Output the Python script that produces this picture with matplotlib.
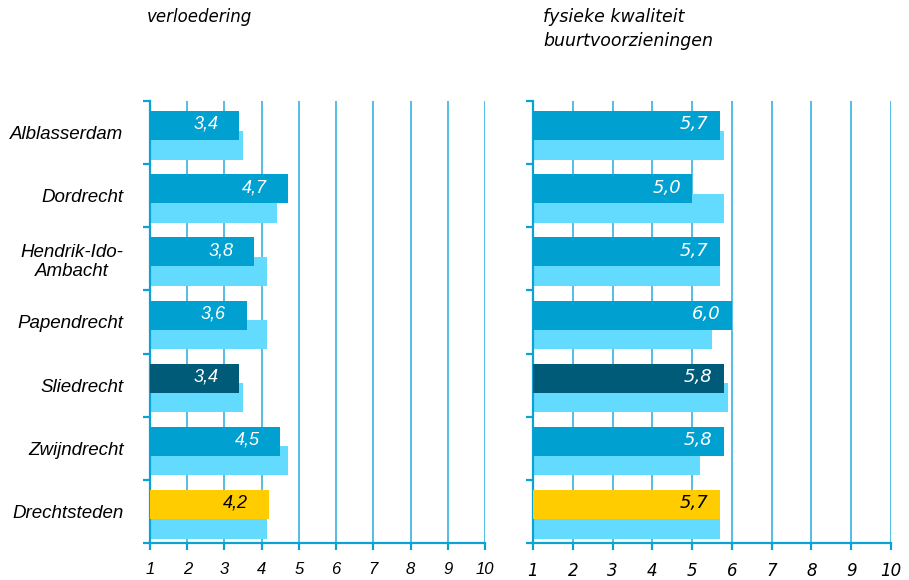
import numpy as np
import matplotlib.pyplot as plt

gemeenten = ['Alblasserdam', 'Dordrecht', 'Hendrik-Ido-\nAmbacht', 'Papendrecht',
             'Sliedrecht', 'Zwijndrecht', 'Drechtsteden']
verloedering = [3.4, 4.7, 3.8, 3.6, 3.4, 4.5, 4.2]
verloedering_vorig = [3.5, 4.4, 4.15, 4.15, 3.5, 4.7, 4.15]
kwaliteit = [5.7, 5.0, 5.7, 6.0, 5.8, 5.8, 5.7]
kwaliteit_vorig = [5.8, 5.8, 5.7, 5.5, 5.9, 5.2, 5.7]
schaal = list(range(1, 11))

blauw = '#00a1d1'
lichtblauw = '#63dbff'
donker = '#005b79'
geel = '#ffcc00'
lijn = '#0aa3d3'
kleuren = [blauw, blauw, blauw, blauw, donker, blauw, geel]
tekstkleur = ['white'] * 6 + ['black']

fig = plt.figure(figsize=(9.09, 5.80), dpi=100)
ax1 = fig.add_axes([150/909, 37/580, 335/909, 442/580])
ax2 = fig.add_axes([533/909, 37/580, 358/909, 442/580])

rows = np.arange(len(gemeenten))


def panel(ax, cur, prev, font, pad, fs, labels):
    ax.barh(rows + 0.70, prev, height=0.46, color=lichtblauw, zorder=2)
    ax.barh(rows + 0.39, cur, height=0.46, color=kleuren, zorder=3)
    for i, v in enumerate(cur):
        ax.annotate(f'{v:.1f}'.replace('.', ','), xy=(v, rows[i] + 0.37),
                    xytext=(-pad, 0), textcoords='offset points',
                    ha='right', va='center', color=tekstkleur[i],
                    fontsize=fs, style='italic', family=font, zorder=4)
    ax.set_xlim(1, 10)
    ax.set_ylim(len(gemeenten), 0)
    ax.grid(axis='x', color='#45b7e2', lw=1.3, zorder=0)
    ax.set_axisbelow(True)
    for s in ['top', 'right']:
        ax.spines[s].set_visible(False)
    for s in ['left', 'bottom']:
        ax.spines[s].set_color(lijn)
        ax.spines[s].set_linewidth(1.6)
    ax.set_yticks(np.arange(len(gemeenten) + 1))
    ax.set_yticklabels([])
    ax.tick_params(axis='both', which='major', color=lijn, width=1.6, length=5, direction='out')
    ax.tick_params(axis='x', pad=9)
    ax.set_xticks(schaal)
    ax.set_xticklabels([str(s) for s in schaal])
    for t in ax.get_xticklabels():
        t.set_fontstyle('italic')
        t.set_family(font)
        t.set_fontsize(12)
    if labels:
        ax.set_yticks(rows + 0.5, minor=True)
        ax.set_yticklabels(gemeenten, minor=True)
        ax.tick_params(axis='y', which='minor', length=0, pad=19)
        for t in ax.get_yticklabels(minor=True):
            t.set_multialignment('center')
            t.set_fontstyle('italic')
            t.set_family('Liberation Sans')
            t.set_fontsize(13.5)


panel(ax1, verloedering, verloedering_vorig, 'Liberation Sans', 15, 13, True)
panel(ax2, kwaliteit, kwaliteit_vorig, 'DejaVu Sans', 8, 13, False)

fig.text(147/909, 1 - 8/580, 'verloedering', ha='left', va='top',
         style='italic', family='DejaVu Sans', fontsize=12)
fig.text(543/909, 1 - 8/580, 'fysieke kwaliteit\nbuurtvoorzieningen', ha='left', va='top',
         style='italic', family='DejaVu Sans', fontsize=12.5, linespacing=1.45)

fig.savefig('out.png', dpi=100)
